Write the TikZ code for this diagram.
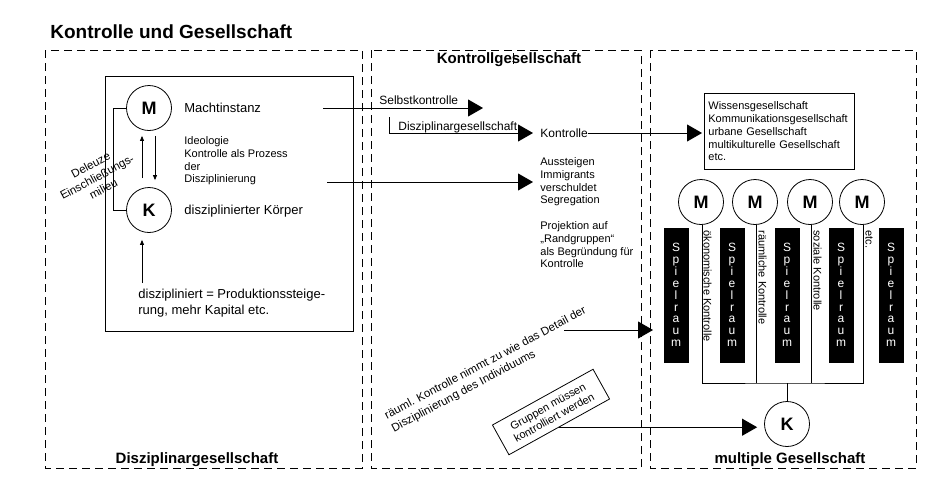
\documentclass[tikz,border=0pt]{standalone}
\usepackage{fontspec}
\setmainfont{Liberation Sans}
\usetikzlibrary{arrows.meta}
\tikzset{
  every node/.style={inner sep=0pt},
  big/.style={font=\fontsize{13}{16}\selectfont},
  mid/.style={font=\fontsize{12}{14}\selectfont},
  small/.style={font=\fontsize{11}{12.7}\selectfont},
  head/.style={font=\bfseries\fontsize{15}{18}\selectfont},
  ring/.style={circle, draw, minimum size=45pt, font=\bfseries\fontsize{18}{20}\selectfont},
  raum/.style={fill=black, text=white, minimum width=25pt, minimum height=135pt, align=center, font=\fontsize{12}{11.9}\selectfont},
  zone/.style={dash pattern=on 8pt off 5pt},
  bigarr/.style={-{Triangle[length=15pt,width=17pt]}},
  smallarr/.style={-{Triangle[length=5pt,width=4pt]}},
  vlabel/.style={small, rotate=-90, anchor=south west, inner sep=2pt},
}
\begin{document}
\begin{tikzpicture}[x=1pt, y=-1pt, line width=0.8pt]
  \useasboundingbox (0,0) rectangle (934,491);
  \node[anchor=west, font=\bfseries\fontsize{19}{22}\selectfont] (title) at (50,32) {Kontrolle und Gesellschaft};

  % three fields
  \draw[zone] (45,50) rectangle (362,468);
  \draw[zone] (371,50) rectangle (641,468);
  \draw[zone] (650,50) rectangle (916,468);
  \node[head] (disz) at (197,460) {Disziplinargesellschaft};
  \node[head] (kges) at (509,60) {Kontrollgesellschaft};
  \node[head] (mges) at (790,460) {multiple Gesellschaft};
  \draw[line width=0.6pt] (513,53) -- (513,64);

  % Disziplinargesellschaft
  \draw (105,76) rectangle (353,331);
  \node[ring] (M) at (149,108) {M};
  \node[ring] (K) at (149,210) {K};
  \node[big, anchor=west] (macht) at (184,108) {Machtinstanz};
  \node[small, anchor=west, align=left] (ideo) at (184,161) {Ideologie\\Kontrolle als Prozess\\der\\Disziplinierung};
  \node[big, anchor=west] (koerper) at (184,211) {disziplinierter Körper};
  \node[big, anchor=west, align=left] (prod) at (138,303) {diszipliniert = Produktionssteige-\\rung, mehr Kapital etc.};
  \node[rotate=28, align=center, font=\fontsize{11.5}{13.5}\selectfont] (deleuze) at (97,177) {Deleuze\\Einschließungs-\\milieu};
  \draw (M.west) -- ++(-13,0) |- (K.west);
  \draw[smallarr] ([xshift=-7pt, yshift=9pt]K.north) -- ([xshift=-7pt, yshift=-5pt]M.south);
  \draw[smallarr] ([xshift=6pt, yshift=-5pt]M.south) -- ([xshift=6pt, yshift=7pt]K.north);
  \coordinate (prodstart) at (142,283);
  \draw[smallarr] (prodstart) -- ([xshift=-7pt, yshift=-7pt]K.south);

  % Kontrollgesellschaft
  \coordinate (machtend) at (323,108);
  \coordinate (selbsttip) at (483,108);
  \draw[bigarr] (machtend) -- (selbsttip);
  \node[mid, anchor=west] (selbst) at (379,100) {Selbstkontrolle};
  \node[mid, anchor=west] (kontr) at (540,133) {Kontrolle};
  \coordinate (diszstart) at (389,117);
  \draw[bigarr] (diszstart) |- ([xshift=-7pt]kontr.west);
  \node[mid, anchor=west] (dlabel) at (398,127) {Disziplinargesellschaft};
  \node[small, anchor=west, align=left] (aus) at (540,182) {Aussteigen\\Immigrants\\verschuldet\\Segregation};
  \coordinate (ideoend) at (327,182);
  \draw[bigarr] (ideoend) -- ([xshift=-7pt]aus.west);
  \node[small, anchor=west, align=left] (proj) at (540,245) {Projektion auf\\„Randgruppen“\\als Begründung für\\Kontrolle};
  \node[rotate=28, align=left, font=\fontsize{11.5}{14.5}\selectfont] (raeuml) at (489,370) {räuml. Kontrolle nimmt zu wie das Detail der\\Disziplinierung des Individuums};
  \coordinate (rstart) at (564,330);
  \coordinate (rtip) at (653,330);
  \draw[bigarr] (rstart) -- (rtip);
  \node[draw, small, rotate=29, align=center, minimum width=115pt, minimum height=34pt] (grp) at (551,412) {Gruppen müssen\\kontrolliert werden};

  % multiple Gesellschaft
  \node[draw, small, align=left, inner xsep=4pt, text width=142pt, minimum height=76pt, anchor=north west] (wissen) at (704,93) {Wissensgesellschaft\\Kommunikationsgesellschaft\\urbane Gesellschaft\\multikulturelle Gesellschaft\\etc.};
  \draw[bigarr, shorten >=2pt] (kontr.east) -- (kontr.east -| wissen.west);
  \node[ring] (Ma) at (701,202) {M};
  \node[ring] (Mb) at (755,202) {M};
  \node[ring] (Mc) at (810,202) {M};
  \node[ring] (Md) at (862,202) {M};
  \node[ring] (Kr) at (787,424) {K};
  \foreach \x/\n in {676/sa, 732/sb, 787/sc, 841/sd, 891/se}
    \node[raum] (\n) at (\x,295) {S\\p\\i\\e\\l\\r\\a\\u\\m};
  \node[vlabel] (oek) at (701,228) {ökonomische Kontrolle};
  \node[vlabel] (raum) at (756,228) {räumliche Kontrolle};
  \node[vlabel] (soz) at (811,228) {soziale Kontrolle};
  \node[vlabel] (etc) at (863,228) {etc.};
  \coordinate (bus) at (787,383);
  \draw ([xshift=1pt]Ma.south) |- (bus) -| ([xshift=1pt]Md.south);
  \draw ([xshift=1pt]Mb.south) -- ([xshift=1pt]Mb.south |- bus);
  \draw ([xshift=1pt]Mc.south) -- ([xshift=1pt]Mc.south |- bus);
  \draw (bus) -- (Kr.north);
  \draw[bigarr, shorten >=7pt] (grp.south) -- (grp.south -| Kr.west);
\end{tikzpicture}
\end{document}
